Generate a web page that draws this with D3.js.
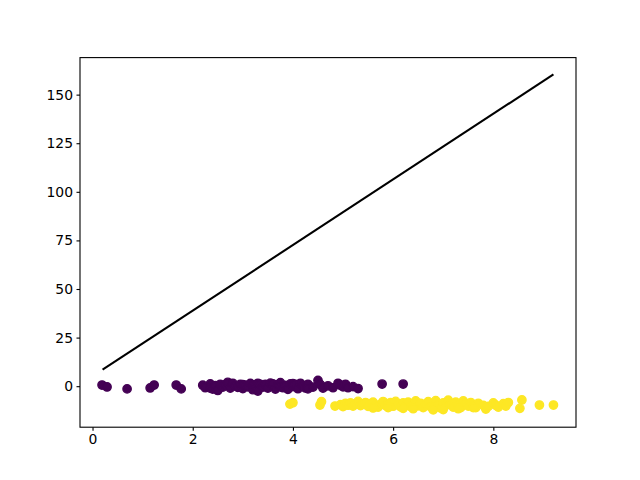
<!DOCTYPE html>
<html>
<head>
<meta charset="utf-8">
<script src="https://cdn.jsdelivr.net/npm/d3@7"></script>
<style>
html,body{margin:0;padding:0;background:#fff;}
svg{display:block;font-family:"DejaVu Sans",sans-serif;}
</style>
</head>
<body>
<svg id="chart" width="640" height="480"></svg>
<script>
// ---- data ----
const lineX = [0.2, 9.2];
const lineY = [8.5, 160.4];

const purpleX = [0.19,0.29,0.69,1.15,1.23,1.67,1.77,
  2.2,2.25,2.35,2.35,2.4,2.45,2.5,2.55,2.6,2.65,2.7,2.75,2.8,2.85,2.9,2.95,3.0,3.0,3.05,3.1,3.15,3.2,3.2,3.25,3.3,3.3,3.35,3.4,3.45,3.5,3.55,3.6,3.6,3.65,3.7,3.75,3.75,3.8,3.85,3.9,3.95,4.0,4.0,4.05,4.1,4.15,4.2,4.25,4.3,4.3,4.4,4.5,4.55,4.6,4.7,4.8,4.9,4.95,5.0,5.05,5.1,5.2,5.3,5.78,6.2];
const purpleY = [0.6,-0.4,-1.4,-0.9,0.6,0.6,-1.4,
  0.5,-0.8,1.2,-1.0,-1.5,0.3,-2.2,1.0,-0.5,0.8,2.0,-1.0,1.5,0.2,-0.6,1.0,-1.2,0.8,0.5,-0.3,1.4,-1.8,0.6,0.7,-2.5,1.5,1.0,-0.5,0.9,-1.0,1.6,0.0,1.2,-1.5,0.8,1.8,-0.3,-0.8,0.4,-1.6,1.2,-0.2,1.3,0.9,-1.3,1.5,0.3,-0.9,1.0,-1.4,-0.5,3.0,0.8,-1.0,0.2,-0.8,1.5,0.5,-0.3,1.0,-0.8,-0.2,-1.2,1.1,1.1];

const yellowX = [3.94,4.0,4.54,4.57,4.84,
  4.95,5.0,5.05,5.1,5.15,5.2,5.25,5.3,5.35,5.4,5.45,5.5,5.55,5.6,5.65,5.7,5.75,5.8,5.85,5.9,5.95,6.0,6.05,6.1,6.15,6.2,6.25,6.3,6.35,6.4,6.45,6.5,6.55,6.6,6.65,6.7,6.75,6.8,6.85,6.9,6.95,7.0,7.05,7.1,7.15,7.2,7.25,7.3,7.35,7.4,7.45,7.5,7.55,7.6,7.65,7.7,7.8,7.85,7.9,8.0,8.05,8.1,8.2,8.25,8.3,
  5.6,5.9,6.2,6.4,6.8,7.0,7.3,7.6,
  8.57,8.53,8.92,9.2];
const yellowY = [-9.2,-8.5,-9.7,-8.0,-10.2,
  -9.5,-10.5,-8.8,-9.8,-8.6,-10.2,-9.0,-7.8,-10.0,-9.2,-8.4,-10.4,-9.0,-8.2,-9.8,-10.8,-9.3,-7.9,-10.0,-9.0,-8.5,-10.3,-7.8,-9.4,-10.6,-8.6,-9.9,-8.2,-10.5,-9.1,-7.6,-10.1,-8.8,-11.0,-9.4,-8.0,-10.6,-12.2,-7.4,-9.8,-11.2,-8.6,-10.0,-7.2,-9.3,-10.8,-8.2,-9.6,-11.0,-7.6,-9.2,-10.2,-8.4,-9.6,-11.0,-8.8,-9.9,-11.8,-10.4,-8.6,-9.8,-10.8,-9.0,-10.2,-8.4,
  -11.2,-11.0,-11.4,-11.6,-11.8,-12.0,-11.6,-11.0,
  -7.1,-11.4,-9.7,-9.7];

const xTicks = [0,2,4,6,8];
const yTicks = [0,25,50,75,100,125,150];

// ---- layout ----
const L = 80, R = 576, T = 57.6, B = 427.2;
const svg = d3.select("#chart");
const x = d3.scaleLinear().domain([-0.25, 9.65]).range([L, R]);
const y = d3.scaleLinear().domain([-21.1, 169.05]).range([B, T]);

// line
svg.append("path")
  .datum(d3.zip(lineX, lineY))
  .attr("d", d3.line().x(d => x(d[0])).y(d => y(d[1])))
  .attr("fill", "none").attr("stroke", "#000").attr("stroke-width", 2.08);

// points
const r = 4.17;
svg.append("g").selectAll("circle").data(d3.zip(purpleX, purpleY)).join("circle")
  .attr("cx", d => x(d[0])).attr("cy", d => y(d[1])).attr("r", r)
  .attr("fill", "#440154").attr("stroke", "#440154").attr("stroke-width", 1.39);
svg.append("g").selectAll("circle").data(d3.zip(yellowX, yellowY)).join("circle")
  .attr("cx", d => x(d[0])).attr("cy", d => y(d[1])).attr("r", r)
  .attr("fill", "#fde725").attr("stroke", "#fde725").attr("stroke-width", 1.39);

// axes
const xAxis = d3.axisBottom(x).tickValues(xTicks).tickSize(3.5).tickPadding(3.5).tickFormat(d3.format("d"));
const yAxis = d3.axisLeft(y).tickValues(yTicks).tickSize(3.5).tickPadding(3.5).tickFormat(d3.format("d"));
const gx = svg.append("g").attr("transform", `translate(0,${B})`).call(xAxis);
const gy = svg.append("g").attr("transform", `translate(${L},0)`).call(yAxis);
[gx, gy].forEach(g => {
  g.select(".domain").remove();
  g.selectAll("line").attr("stroke", "#000").attr("stroke-width", 1.1);
  g.selectAll("text").attr("fill", "#000").style("font-size", "13.9px").style("font-family", "DejaVu Sans");
});

// frame
svg.append("rect").attr("x", L).attr("y", T).attr("width", R - L).attr("height", B - T)
  .attr("fill", "none").attr("stroke", "#000").attr("stroke-width", 1.1);
</script>
</body>
</html>
